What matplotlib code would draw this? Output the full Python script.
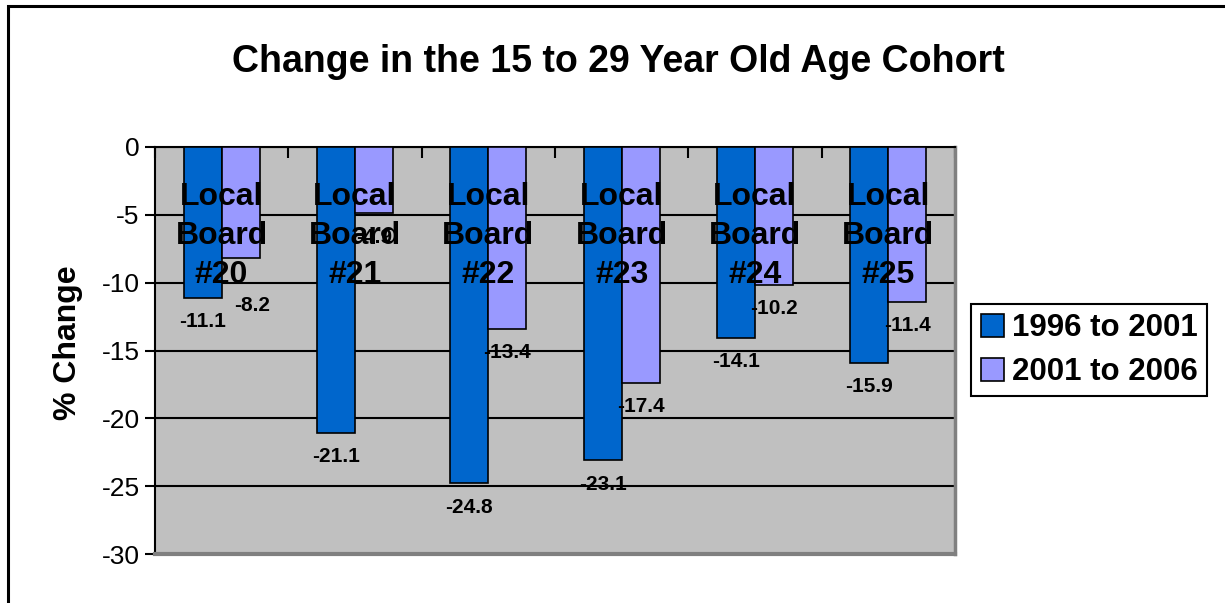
import matplotlib
matplotlib.use("Agg")
import matplotlib.pyplot as plt
from matplotlib.patches import Rectangle
import numpy as np

# data
boards = ["Local\nBoard\n#20", "Local\nBoard\n#21", "Local\nBoard\n#22",
          "Local\nBoard\n#23", "Local\nBoard\n#24", "Local\nBoard\n#25"]
change_96_01 = [-11.1, -21.1, -24.8, -23.1, -14.1, -15.9]
change_01_06 = [-8.2, -4.9, -13.4, -17.4, -10.2, -11.4]
series_names = ["1996 to 2001", "2001 to 2006"]
y_ticks = [0, -5, -10, -15, -20, -25, -30]

plt.rcParams['font.family'] = ['Liberation Sans', 'DejaVu Sans']

BLUE = "#0066CC"
PURPLE = "#9999FF"
GREY_BG = "#C0C0C0"

fig = plt.figure(figsize=(12.25, 6.03), dpi=100)
ax = fig.add_axes([155 / 1225, 1 - 554 / 603, 800 / 1225, 407 / 603])
ax.set_facecolor(GREY_BG)

x = np.arange(len(boards))
w = 0.285
b1 = ax.bar(x - w / 2, change_96_01, w, color=BLUE, edgecolor="black", linewidth=1.2, zorder=3,
            label=series_names[0])
b2 = ax.bar(x + w / 2, change_01_06, w, color=PURPLE, edgecolor="black", linewidth=1.2, zorder=3,
            label=series_names[1])

# data labels under the bar ends (one was nudged by hand in the original)
nudge2 = {0: (8, -34)}
for i, v in enumerate(change_96_01):
    ax.annotate(f"{v:.1f}", (x[i] - w / 2, v), xytext=(0, -17), textcoords="offset points",
                ha="center", va="center", fontsize=15, fontweight="bold", zorder=5)
for i, v in enumerate(change_01_06):
    dx, dy = nudge2.get(i, (0, -17))
    ax.annotate(f"{v:.1f}", (x[i] + w / 2, v), xytext=(dx, dy), textcoords="offset points",
                ha="center", va="center", fontsize=15, fontweight="bold", zorder=5)

# category labels sit just under the zero line, on top of the bars
for i, name in enumerate(boards):
    ax.text(x[i], -6.55, name, ha="center", va="center", fontsize=23, fontweight="bold",
            linespacing=1.38, zorder=6)

ax.set_xlim(-0.5, len(boards) - 0.5)
ax.set_ylim(-30, 0)
ax.set_yticks(y_ticks)
ax.set_yticklabels([str(t) for t in y_ticks], fontsize=19)
ax.tick_params(axis="y", direction="out", length=7, width=1.5, color="black", pad=4)

# category axis sits on the zero line
ax.spines["bottom"].set_position(("data", 0))
ax.spines["bottom"].set_color("black")
ax.spines["bottom"].set_linewidth(1.5)
ax.set_xticks(np.arange(-0.5, len(boards) + 0.5, 1))
ax.set_xticklabels([])
ax.tick_params(axis="x", direction="out", length=8, width=1.5, color="black")

ax.spines["left"].set_color("black")
ax.spines["left"].set_linewidth(1.5)
ax.spines["top"].set_visible(False)
ax.spines["right"].set_color("#808080")
ax.spines["right"].set_linewidth(2.5)
ax.axhline(-30, color="#808080", linewidth=3, zorder=4, clip_on=False)

ax.yaxis.grid(True, color="black", linewidth=1.5)
ax.set_axisbelow(True)

fig.text(618 / 1225, 1 - 62 / 603, "Change in the 15 to 29 Year Old Age Cohort",
         ha="center", va="center", fontsize=27, fontweight="bold")
fig.text(68 / 1225, 1 - 343 / 603, "% Change", rotation=90, ha="center", va="center",
         fontsize=23, fontweight="bold")

leg = fig.legend(handles=[b1, b2], labels=series_names, loc="center",
                 bbox_to_anchor=(1089 / 1225, 1 - 350 / 603),
                 prop={"weight": "bold", "size": 22.5},
                 frameon=True, fancybox=False, edgecolor="black", framealpha=1,
                 handlelength=0.75, handleheight=0.75, handletextpad=0.25,
                 borderpad=0.3, labelspacing=0.45, borderaxespad=0)
leg.get_frame().set_linewidth(1.5)

# outer chart frame (left and top edges visible)
fig.add_artist(Rectangle((7.5 / 1225, -0.2), 1.5, 1.2 - 5.5 / 603, transform=fig.transFigure,
                         fill=False, edgecolor="black", linewidth=2.2))

fig.savefig("out.png", dpi=100)
